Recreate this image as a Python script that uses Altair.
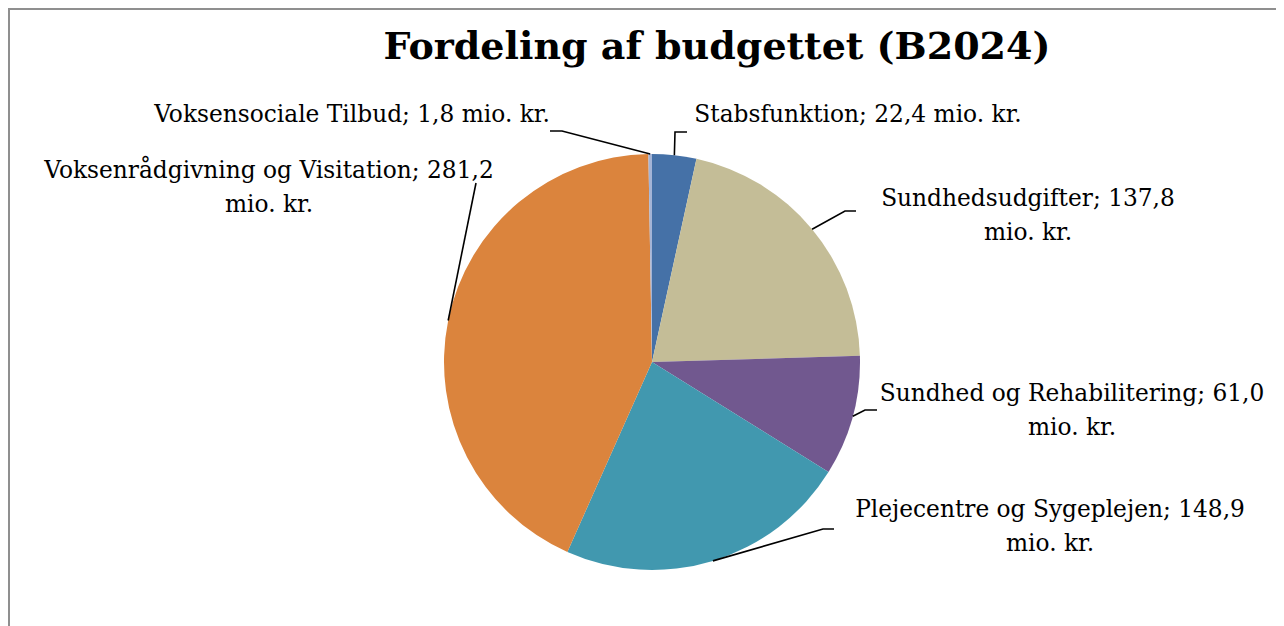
import altair as alt
import numpy as np
import pandas as pd

# ---- data ----
categories = [
    "Stabsfunktion",
    "Sundhedsudgifter",
    "Sundhed og Rehabilitering",
    "Plejecentre og Sygeplejen",
    "Voksenrådgivning og Visitation",
    "Voksensociale Tilbud",
]
values = [22.4, 137.8, 61.0, 148.9, 281.2, 1.8]
colors = ["#4571A7", "#C4BD97", "#71588F", "#4198AF", "#DB843D", "#A4B4D6"]
title_text = "Fordeling af budgettet (B2024)"
unit = "mio. kr."
# whether the label wraps before the unit
wrap = [False, True, True, True, True, False]

# ---- layout (chart pixel coordinates) ----
W, H = 1268, 618
CX, CY, R = 644, 354, 208
FONT = "DejaVu Serif"
FS = 23.3
LINE_H = 34
# label anchor (center x, first-line baseline y)
label_pos = [(850, 114), (1020, 198), (1064, 393), (1042, 509), (261, 170), (344, 114)]
# leader line: elbow point and end point near the label
leader_elbow = [(667, 124), (837, 203), (857, 402), (815, 521), (468, 175), (554, 123)]
leader_end = [(679, 124), (848, 203), (869, 402), (826, 521), (468, 175), (542, 123)]


def fmt(v):
    return f"{v:.1f}".replace(".", ",")


n = len(categories)
pie_df = pd.DataFrame({"cat": categories, "value": values, "idx": list(range(n))})

# label texts
txt_rows = []
for i, (c, v) in enumerate(zip(categories, values)):
    lx, ly = label_pos[i]
    if wrap[i]:
        lines = [f"{c}; {fmt(v)}", unit]
    else:
        lines = [f"{c}; {fmt(v)} {unit}"]
    for k, ln in enumerate(lines):
        txt_rows.append({"cat": c, "text": ln, "x": lx, "y": ly + k * LINE_H})
txt_df = pd.DataFrame(txt_rows)

# leader lines, starting on the slice edge at its mid angle
vals = np.array(values)
cum = np.cumsum(vals)
mid = (cum - vals / 2) / vals.sum() * 2 * np.pi
line_rows = []
for i, c in enumerate(categories):
    ex = CX + R * np.sin(mid[i])
    ey = CY - R * np.cos(mid[i])
    pts = [(ex, ey), leader_elbow[i], leader_end[i]]
    for k, (px, py) in enumerate(pts):
        line_rows.append({"cat": c, "k": k, "x": px, "y": py})
line_df = pd.DataFrame(line_rows)

xs = alt.Scale(domain=[0, W], range=[0, W])
ys = alt.Scale(domain=[0, H], range=[0, H])

pie = (
    alt.Chart(pie_df)
    .mark_arc(outerRadius=R)
    .encode(
        theta=alt.Theta("value:Q", stack=True),
        order=alt.Order("idx:Q"),
        color=alt.Color("cat:N", scale=alt.Scale(domain=categories, range=colors), legend=None),
        x=alt.value(CX),
        y=alt.value(CY),
    )
)

leaders = (
    alt.Chart(line_df)
    .mark_line(color="black", strokeWidth=1.6)
    .encode(
        x=alt.X("x:Q", scale=xs, axis=None),
        y=alt.Y("y:Q", scale=ys, axis=None),
        detail="cat:N",
        order="k:Q",
    )
)

labels = (
    alt.Chart(txt_df)
    .mark_text(font=FONT, fontSize=FS, align="center", baseline="alphabetic", color="black")
    .encode(
        x=alt.X("x:Q", scale=xs, axis=None),
        y=alt.Y("y:Q", scale=ys, axis=None),
        text="text:N",
    )
)

title = (
    alt.Chart(pd.DataFrame({"t": [title_text]}))
    .mark_text(font=FONT, fontSize=38, fontWeight="bold", align="center", baseline="alphabetic", color="black")
    .encode(x=alt.value(709), y=alt.value(51), text="t:N")
)

border_left = alt.Chart(pd.DataFrame({"a": [0]})).mark_rule(color="#8F8F8F", strokeWidth=2).encode(
    x=alt.value(1), y=alt.value(0), y2=alt.value(H)
)
border_top = alt.Chart(pd.DataFrame({"a": [0]})).mark_rule(color="#8F8F8F", strokeWidth=2).encode(
    x=alt.value(0), x2=alt.value(W), y=alt.value(1)
)

chart = (
    alt.layer(border_left, border_top, pie, leaders, labels, title)
    .properties(width=W, height=H, padding=0, autosize=alt.AutoSizeParams(type="none"), background="white")
    .configure_view(stroke=None)
)

chart.save("out.html", embed_options={"renderer": "svg", "actions": False})
